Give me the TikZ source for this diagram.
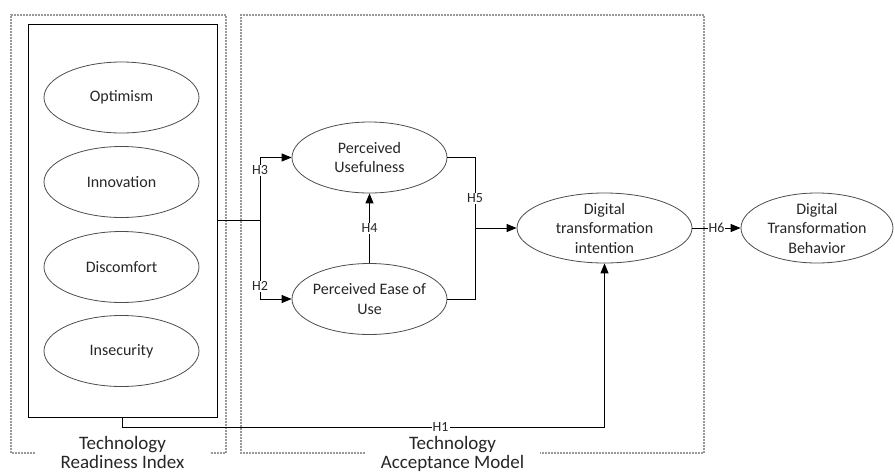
\documentclass[tikz,border=0pt]{standalone}
\usepackage{fontspec}
\setmainfont{Carlito}
\usetikzlibrary{arrows.meta,shapes.geometric}
\begin{document}
\begin{tikzpicture}[x=1pt,y=-1pt,
  ell/.style={ellipse, draw=black!70, line width=0.8pt, inner sep=0pt},
  etext/.style={align=center, inner sep=0pt, font=\fontsize{16}{19.5}\selectfont, text=black!85},
  conn/.style={line width=1.0pt, black},
  arr/.style={conn, -{Triangle[length=10pt,width=8pt]}},
  hlab/.style={fill=white, inner sep=1pt, font=\fontsize{14}{16}\selectfont, text=black!85},
  zone/.style={draw=black!40, line width=1.1pt, dash pattern=on 2pt off 1pt},
  title/.style={align=center, font=\fontsize{19}{19}\selectfont, inner sep=0pt, anchor=north, text=black!85}
]
\useasboundingbox (0,0) rectangle (895,472);

% zones
\draw[zone] (35,453) -- (11,453) -- (11,15) -- (226,15) -- (226,453) -- (210,453);
\draw[zone] (365,453) -- (241,453) -- (241,15) -- (704,15) -- (704,453) -- (540,453);
\node[title] (trit) at (122.5,436.5) {Technology\\Readiness Index};
\node[title] (tamt) at (452.5,436.5) {Technology\\Acceptance Model};

% readiness box
\node[draw, line width=1.0pt, minimum width=189pt, minimum height=393pt, inner sep=0pt] (tri) at (122.5,220.5) {};
\node[ell, minimum width=155pt, minimum height=71pt] (opt) at (121.5,97.5) {};
\node[etext] at (opt) {Optimism};
\node[ell, minimum width=155pt, minimum height=71pt] (inn) at (121.5,182) {};
\node[etext] at (inn) {Innovation};
\node[ell, minimum width=155pt, minimum height=71pt] (dis) at (121.5,267) {};
\node[etext] at (dis) {Discomfort};
\node[ell, minimum width=155pt, minimum height=71pt] (ins) at (121.5,351) {};
\node[etext] at (ins) {Insecurity};

% TAM
\node[ell, minimum width=155pt, minimum height=71pt] (pu) at (369.5,157.5) {};
\node[etext] at (pu) {Perceived\\Usefulness};
\node[ell, minimum width=155pt, minimum height=71pt] (peu) at (369.5,299) {};
\node[etext] at (peu) {Perceived Ease of\\Use};
\node[ell, minimum width=175pt, minimum height=70pt] (dti) at (604.5,228) {};
\node[etext] at (dti) {Digital\\transformation\\intention};
\node[ell, minimum width=152pt, minimum height=70pt] (dtb) at (817,228) {};
\node[etext] at (dtb) {Digital\\Transformation\\Behavior};

% connectors
\coordinate (j1) at (260,220.5);
\draw[conn] (tri.east) -- (j1);
\draw[arr] (j1) |- node[hlab, pos=0.4]{H3} (pu.west);
\draw[arr] (j1) |- node[hlab, pos=0.42]{H2} (peu.west);
\draw[arr] (peu.north) -- node[hlab]{H4} (pu.south);
\coordinate (j2) at (475,228);
\draw[conn] (pu.east) -| node[hlab, pos=0.79]{H5} (j2);
\draw[conn] (peu.east) -| (j2);
\draw[arr] (j2) -- (dti.west);
\draw[arr] (dti.east) -- node[hlab, inner sep=0.5pt]{H6} (dtb.west);
\coordinate (h1a) at (122.5,427);
\draw[arr] (tri.south) -- (h1a) -| node[hlab, pos=0.33]{H1} (dti.south);
\end{tikzpicture}
\end{document}
